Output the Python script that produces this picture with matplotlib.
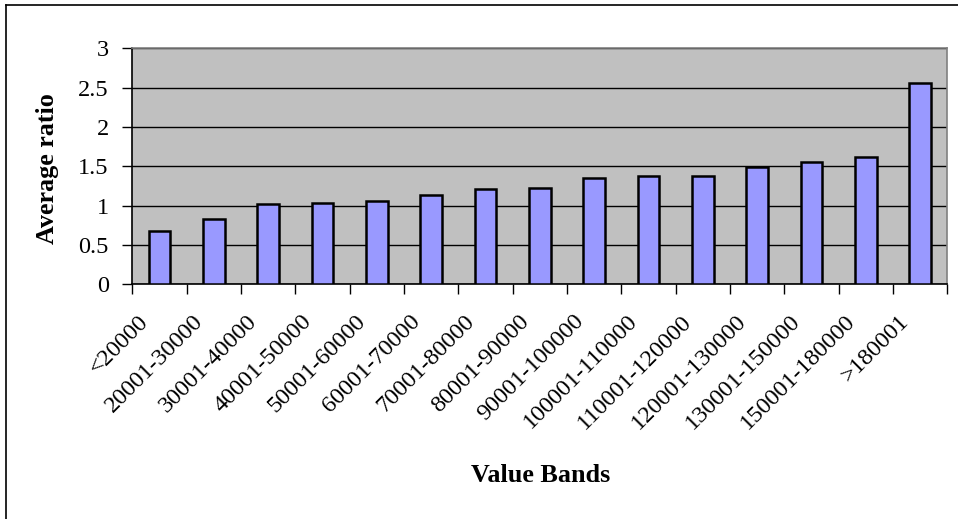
import matplotlib.pyplot as plt
import numpy as np
from matplotlib.lines import Line2D
from matplotlib.transforms import ScaledTranslation

bands = ["<20000", "20001-30000", "30001-40000", "40001-50000", "50001-60000",
         "60001-70000", "70001-80000", "80001-90000", "90001-100000",
         "100001-110000", "110001-120000", "120001-130000", "130001-150000",
         "150001-180000", ">180001"]
avg_ratio = [0.68, 0.83, 1.02, 1.03, 1.06, 1.14, 1.21, 1.22, 1.35,
             1.38, 1.38, 1.49, 1.55, 1.62, 2.56]

plt.rcParams['font.family'] = ['Liberation Serif', 'DejaVu Serif']

fig = plt.figure(figsize=(9.58, 5.19), dpi=100)
W, H = 958, 519
ax = fig.add_axes([132.3 / W, 1 - 284.3 / H, (947.3 - 132.3) / W, (284.3 - 48.3) / H])

x = np.arange(len(bands))
ax.bar(x, avg_ratio, width=0.4, color='#9999FF', edgecolor='black', linewidth=1.8, zorder=3)

ax.set_facecolor('#C0C0C0')
ax.set_xlim(-0.5, len(bands) - 0.5)
ax.set_ylim(0, 3)
ax.set_yticks(np.arange(0, 3.01, 0.5))
ax.set_yticklabels(['0', '0.5', '1', '1.5', '2', '2.5', '3'])
ax.yaxis.grid(True, color='black', linewidth=1, zorder=1)

# category tick marks sit between bars
ax.set_xticks(np.arange(-0.5, len(bands)))
ax.set_xticklabels([])
ax.tick_params(axis='x', length=7, width=1, direction='out')
ax.tick_params(axis='y', length=7, width=1, direction='out', labelsize=17.5, pad=10)

# band names, slanted, ending just left of each bar centre
lbl_tf = ax.get_xaxis_transform() + ScaledTranslation(-14 / 100, -34 / 100, fig.dpi_scale_trans)
for xi, name in zip(x, bands):
    ax.text(xi, 0, name, transform=lbl_tf, rotation=45, rotation_mode='anchor',
            ha='right', va='center', fontsize=17.5, clip_on=False)

for side in ['top', 'right']:
    ax.spines[side].set_color('#808080')
    ax.spines[side].set_linewidth(1.2)
for side in ['left', 'bottom']:
    ax.spines[side].set_color('black')
    ax.spines[side].set_linewidth(1.2)

fig.text(48 / W, 1 - 168.5 / H, 'Average ratio', fontsize=18.8, fontweight='bold',
         rotation=90, ha='center', va='center')
fig.text(541 / W, 1 - 476 / H, 'Value Bands', fontsize=18.8, fontweight='bold',
         ha='center', va='center')

# chart area frame
fig.add_artist(Line2D([5.5 / W, 5.5 / W], [0, 1 - 5 / H], color='black', linewidth=1.2))
fig.add_artist(Line2D([5.5 / W, 1], [1 - 5 / H, 1 - 5 / H], color='black', linewidth=1.2))

fig.savefig('out.png', dpi=100)
